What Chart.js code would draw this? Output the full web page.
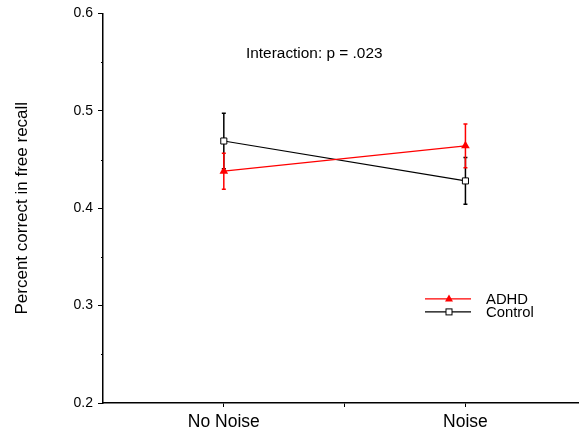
<!DOCTYPE html>
<html>
<head>
<meta charset="utf-8">
<script src="https://cdn.jsdelivr.net/npm/chart.js@4.4.1/dist/chart.umd.min.js"></script>
<style>
html,body{margin:0;padding:0;background:#fff;}
#wrap{width:579px;height:432px;position:relative;}
</style>
</head>
<body>
<div id="wrap"><canvas id="c" width="579" height="432"></canvas></div>
<script>
const categories = ['No Noise', 'Noise'];
const adhdMeans = [0.438, 0.464];
const adhdErr = [0.0185, 0.0225];
const controlMeans = [0.469, 0.428];
const controlErr = [0.0285, 0.024];
const yTickValues = [0.2, 0.3, 0.4, 0.5, 0.6];
const yMinorValues = [0.25, 0.35, 0.45, 0.55];
const annotationText = 'Interaction: p = .023';
const yTitle = 'Percent correct in free recall';

const FONT = "'Liberation Sans', Arial, Helvetica, sans-serif";
const RED = '#ff0000';
const BLACK = '#000000';

const toPoints = arr => arr.map((v, i) => ({x: i + 1, y: v}));

function stretchedText(ctx, text, x, y, sx) {
  ctx.save();
  ctx.translate(x, y);
  ctx.scale(sx, 1);
  ctx.fillText(text, 0, 0);
  ctx.restore();
}

const errorBars = {
  id: 'errorBars',
  beforeDatasetsDraw(chart) {
    const ctx = chart.ctx;
    const ys = chart.scales.y, xs = chart.scales.x;
    const sets = [
      {means: controlMeans, errs: controlErr, color: BLACK},
      {means: adhdMeans, errs: adhdErr, color: RED}
    ];
    ctx.save();
    sets.forEach(s => {
      ctx.strokeStyle = s.color;
      ctx.lineWidth = 1.5;
      s.means.forEach((m, i) => {
        const x = xs.getPixelForValue(i + 1);
        const yt = ys.getPixelForValue(m + s.errs[i]);
        const yb = ys.getPixelForValue(m - s.errs[i]);
        ctx.beginPath();
        ctx.moveTo(x, yt); ctx.lineTo(x, yb);
        ctx.moveTo(x - 2, yt); ctx.lineTo(x + 2, yt);
        ctx.moveTo(x - 2, yb); ctx.lineTo(x + 2, yb);
        ctx.stroke();
      });
    });
    ctx.restore();
  },
  afterDraw(chart) {
    const ctx = chart.ctx;
    const ys = chart.scales.y;
    const ca = chart.chartArea;
    ctx.save();
    // minor y ticks
    ctx.strokeStyle = BLACK;
    ctx.lineWidth = 1;
    yMinorValues.forEach(v => {
      const y = Math.round(ys.getPixelForValue(v)) + 0.5;
      ctx.beginPath();
      ctx.moveTo(ca.left - 2, y); ctx.lineTo(ca.left, y);
      ctx.stroke();
    });
    // annotation
    ctx.fillStyle = BLACK;
    ctx.font = '14px ' + FONT;
    ctx.textBaseline = 'middle';
    ctx.textAlign = 'left';
    stretchedText(ctx, annotationText, ca.left + 143, ca.top + 41, 1.1);
    // legend
    const lx0 = ca.left + 322, lx1 = ca.left + 368, mx = ca.left + 346;
    const rows = [
      {label: chart.data.datasets[0].label, color: RED, style: 'triangle', y: ca.top + 285.5},
      {label: chart.data.datasets[1].label, color: BLACK, style: 'rect', y: ca.top + 298.5}
    ];
    ctx.font = '14px ' + FONT;
    rows.forEach(r => {
      ctx.strokeStyle = r.color;
      ctx.lineWidth = 1.2;
      ctx.beginPath();
      ctx.moveTo(lx0, r.y); ctx.lineTo(lx1, r.y);
      ctx.stroke();
      if (r.style === 'triangle') {
        ctx.fillStyle = RED;
        ctx.beginPath();
        ctx.moveTo(mx, r.y - 4.5);
        ctx.lineTo(mx + 4, r.y + 2.5);
        ctx.lineTo(mx - 4, r.y + 2.5);
        ctx.closePath();
        ctx.fill();
      } else {
        ctx.fillStyle = '#fff';
        ctx.fillRect(mx - 3, r.y - 3, 6, 6);
        ctx.strokeStyle = BLACK;
        ctx.lineWidth = 1;
        ctx.strokeRect(mx - 3, r.y - 3, 6, 6);
      }
      ctx.fillStyle = BLACK;
      stretchedText(ctx, r.label, ca.left + 383, r.y + 1, 1.06);
    });
    ctx.restore();
  }
};

new Chart(document.getElementById('c'), {
  type: 'line',
  data: {
    datasets: [
      {
        label: 'ADHD',
        data: toPoints(adhdMeans),
        borderColor: RED,
        backgroundColor: RED,
        borderWidth: 1.2,
        pointStyle: 'triangle',
        pointRadius: 5,
        pointBorderWidth: 0,
        pointBackgroundColor: RED,
        pointBorderColor: RED,
        tension: 0
      },
      {
        label: 'Control',
        data: toPoints(controlMeans),
        borderColor: BLACK,
        backgroundColor: '#fff',
        borderWidth: 1.2,
        pointStyle: 'rect',
        pointRadius: 4.3,
        pointBorderWidth: 1,
        pointBackgroundColor: '#fff',
        pointBorderColor: BLACK,
        tension: 0
      }
    ]
  },
  options: {
    responsive: false,
    animation: false,
    devicePixelRatio: 1,
    layout: {autoPadding: false, padding: {top: 11, right: 0, left: 0, bottom: 0}},
    plugins: {legend: {display: false}, tooltip: {enabled: false}},
    scales: {
      x: {
        type: 'linear',
        min: 0.5,
        max: 2.47,
        afterBuildTicks(scale) {
          scale.ticks = [{value: 1}, {value: 1.5}, {value: 2}];
        },
        afterFit(scale) {
          scale.height = 29;
          scale.paddingRight = 0;
          scale.paddingLeft = 0;
        },
        grid: {drawOnChartArea: false, drawTicks: true, tickLength: 4, color: BLACK, lineWidth: 1},
        border: {display: true, color: BLACK, width: 1.5},
        ticks: {
          color: BLACK,
          font: {family: FONT, size: 17.5},
          padding: 5,
          maxRotation: 0,
          autoSkip: false,
          callback: v => Number.isInteger(v) ? categories[v - 1] : ''
        }
      },
      y: {
        type: 'linear',
        min: 0.2,
        max: 0.6,
        afterBuildTicks(scale) {
          scale.ticks = yTickValues.map(v => ({value: v}));
        },
        afterFit(scale) { scale.width = 103; },
        grid: {drawOnChartArea: false, drawTicks: true, tickLength: 5, color: BLACK, lineWidth: 1},
        border: {display: true, color: BLACK, width: 1.5},
        title: {
          display: true,
          text: yTitle,
          color: BLACK,
          font: {family: FONT, size: 17},
          padding: {top: 12, bottom: 0}
        },
        ticks: {
          color: BLACK,
          font: {family: FONT, size: 14},
          padding: 5,
          callback: v => v.toFixed(1)
        }
      }
    }
  },
  plugins: [errorBars]
});
</script>
</body>
</html>
